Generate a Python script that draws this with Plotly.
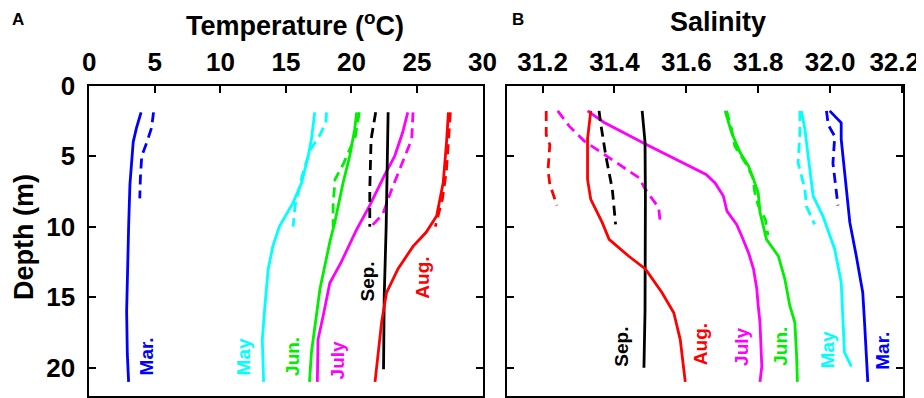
import plotly.graph_objects as go

# ---------------- Panel A: Temperature (°C) vs depth (m) ----------------
mar_t_depth = [1.9, 3, 4, 5, 7, 10, 13, 16, 19, 21]
mar_t = [3.95, 3.6, 3.35, 3.25, 3.1, 3.0, 2.9, 2.85, 2.9, 3.0]
mar_td_depth = [1.9, 3, 4, 5, 6.5, 8]
mar_td = [4.9, 4.75, 4.4, 4.0, 3.9, 3.85]

may_t_depth = [1.9, 3.8, 5, 6.9, 8.3, 10, 11.4, 13, 15.6, 18, 21]
may_t = [17.2, 16.95, 16.7, 16.2, 15.55, 14.5, 14.0, 13.65, 13.4, 13.2, 13.3]
may_td_depth = [1.9, 2.6, 3.5, 4.5, 6, 7.3, 8.5, 10]
may_td = [18.1, 18.05, 17.6, 16.9, 16.35, 16.0, 15.7, 15.55]

jun_t_depth = [1.9, 3.1, 5, 6.9, 9.7, 11.1, 14.4, 17, 18.9, 21]
jun_t = [20.4, 20.25, 19.87, 19.36, 18.73, 18.35, 17.6, 17.2, 16.95, 16.8]
jun_td_depth = [1.9, 2.6, 3.6, 5.6, 6.65, 8.5, 10]
jun_td = [20.6, 20.5, 20.3, 19.36, 18.75, 18.6, 18.6]

jul_t_depth = [1.9, 3.35, 5, 6.4, 8.5, 10.2, 12.55, 14, 16.3, 18, 21]
jul_t = [24.3, 23.9, 23.3, 22.5, 21.4, 20.4, 19.2, 18.35, 17.85, 17.45, 17.4]
jul_td_depth = [1.9, 3.8, 5.9, 7.4, 9.1, 10]
jul_td = [24.7, 24.6, 23.7, 23.05, 22.4, 21.5]

aug_t_depth = [1.9, 4.1, 6.9, 9.25, 10.4, 11.4, 13, 14.7, 16.8, 21]
aug_t = [27.4, 27.25, 27.0, 26.5, 25.7, 24.7, 23.55, 22.67, 22.3, 21.8]
aug_td_depth = [1.9, 4, 6, 8, 10]
aug_td = [27.55, 27.4, 27.25, 26.95, 26.4]

sep_t_depth = [1.9, 5, 10, 15, 20.1]
sep_t = [22.8, 22.75, 22.65, 22.5, 22.45]
sep_td_depth = [1.9, 3.8, 7.4, 10]
sep_td = [21.85, 21.5, 21.4, 21.4]

# ---------------- Panel B: Salinity vs depth (m) ----------------
aug_s_depth = [1.8, 3.8, 6.65, 8.07, 9.72, 10.9, 12.1, 13.0, 14.67, 16.1, 18.0, 19.1, 21.0]
aug_s = [31.334, 31.325, 31.325, 31.334, 31.366, 31.385, 31.44, 31.486, 31.532, 31.565, 31.583, 31.588, 31.597]
aug_sd_depth = [1.8, 3.5, 4.2, 6, 7, 8.5]
aug_sd = [31.21, 31.21, 31.22, 31.215, 31.22, 31.24]

sep_s_depth = [1.8, 4, 8, 12, 16, 20]
sep_s = [31.477, 31.485, 31.486, 31.486, 31.485, 31.482]
sep_sd_depth = [1.8, 2.75, 5.0, 7.36, 9.84]
sep_sd = [31.357, 31.362, 31.376, 31.394, 31.403]

jul_s_depth = [1.8, 2.6, 4.2, 6.3, 6.9, 7.83, 8.9, 9.84, 10.66, 11.84, 13.0, 14.4, 15.6, 16.8, 19.9, 21.0]
jul_s = [31.325, 31.37, 31.49, 31.655, 31.68, 31.703, 31.713, 31.74, 31.754, 31.773, 31.787, 31.796, 31.8, 31.805, 31.81, 31.805]
jul_sd_depth = [1.8, 2.88, 3.94, 5.24, 6.53, 7.36, 8.66, 9.84]
jul_sd = [31.242, 31.274, 31.316, 31.394, 31.468, 31.486, 31.523, 31.528]

jun_s_depth = [1.8, 3.35, 4.77, 5.71, 6.65, 7.6, 9.0, 10.9, 12.08, 13.7, 15.6, 16.8, 19.2, 21.0]
jun_s = [31.708, 31.726, 31.75, 31.773, 31.787, 31.8, 31.805, 31.823, 31.856, 31.874, 31.888, 31.902, 31.907, 31.909]
jun_sd_depth = [1.8, 3, 4.3, 5.5, 6.5, 7.5, 8.5, 9.5, 10.6]
jun_sd = [31.712, 31.725, 31.735, 31.765, 31.785, 31.79, 31.8, 31.82, 31.827]

may_s_depth = [1.8, 3.1, 5.0, 7.83, 9.25, 11.6, 13.96, 16.8, 18.9, 19.9]
may_s = [31.92, 31.93, 31.939, 31.953, 31.98, 32.013, 32.031, 32.036, 32.04, 32.059]
may_sd_depth = [1.8, 3.35, 5.47, 7.36, 8.54, 9.84]
may_sd = [31.916, 31.916, 31.911, 31.93, 31.934, 31.957]

mar_s_depth = [1.8, 2.64, 3.8, 6.2, 9.7, 12.08, 14.67, 16.8, 19.2, 21.0]
mar_s = [31.999, 32.031, 32.031, 32.04, 32.055, 32.073, 32.091, 32.096, 32.1, 32.105]
mar_sd_depth = [1.8, 2.8, 3.6, 5.5, 7, 8.5]
mar_sd = [31.99, 31.995, 32.013, 32.008, 32.015, 32.022]

# ---------------- labels ----------------
month_names = ["Mar.", "May", "Jun.", "July", "Sep.", "Aug."]
month_colors = ["#0000ff", "#00ffff", "#00ee00", "#ff00ff", "#000000", "#ff0000"]
temp_label_x = [4.4, 11.8, 15.5, 18.95, 21.25, 25.4]
temp_label_y = [19.2, 19.2, 19.2, 19.5, 13.9, 13.6]
sal_label_x = [32.147, 31.994, 31.861, 31.753, 31.421, 31.639]
sal_label_y = [18.8, 18.7, 18.5, 18.5, 18.5, 18.3]

temp_ticks = [0, 5, 10, 15, 20, 25, 30]
sal_ticks = [31.2, 31.4, 31.6, 31.8, 32.0, 32.2]
# trailing no-break spaces nudge the last label left so it stays inside the page
sal_ticktext = ["31.2", "31.4", "31.6", "31.8", "32.0", "32.2\u00a0\u00a0"]
depth_ticks = [0, 5, 10, 15, 20]

FONT = "Liberation Sans, Arial, sans-serif"
LW = 2.8
DASH = "10px,6px"

colors = dict(zip(month_names, month_colors))

fig = go.Figure()

def add(x, y, color, dash, xa, ya):
    fig.add_trace(go.Scatter(
        x=x, y=y, mode="lines", xaxis=xa, yaxis=ya, showlegend=False,
        line=dict(color=color, width=LW, dash=dash), hoverinfo="skip"))

temp_series = [
    ("Mar.", mar_t, mar_t_depth, mar_td, mar_td_depth),
    ("May", may_t, may_t_depth, may_td, may_td_depth),
    ("Jun.", jun_t, jun_t_depth, jun_td, jun_td_depth),
    ("July", jul_t, jul_t_depth, jul_td, jul_td_depth),
    ("Sep.", sep_t, sep_t_depth, sep_td, sep_td_depth),
    ("Aug.", aug_t, aug_t_depth, aug_td, aug_td_depth),
]
for name, xs, ys, xd, yd in temp_series:
    add(xd, yd, colors[name], DASH, "x", "y")
    add(xs, ys, colors[name], "solid", "x", "y")

sal_series = [
    ("Mar.", mar_s, mar_s_depth, mar_sd, mar_sd_depth),
    ("May", may_s, may_s_depth, may_sd, may_sd_depth),
    ("Jun.", jun_s, jun_s_depth, jun_sd, jun_sd_depth),
    ("July", jul_s, jul_s_depth, jul_sd, jul_sd_depth),
    ("Sep.", sep_s, sep_s_depth, sep_sd, sep_sd_depth),
    ("Aug.", aug_s, aug_s_depth, aug_sd, aug_sd_depth),
]
for name, xs, ys, xd, yd in sal_series:
    add(xd, yd, colors[name], DASH, "x2", "y2")
    add(xs, ys, colors[name], "solid", "x2", "y2")

# page body has an 8px margin: figure is drawn from (8, 8) of the window
OFF = 8
W, H = 924 - OFF, 398 - OFF

def px(X):
    return (X - OFF) / W

def py(Y):
    return 1 - (Y - OFF) / H

annotations = []
for name, c, lx, ly in zip(month_names, month_colors, temp_label_x, temp_label_y):
    annotations.append(dict(x=lx, y=ly, xref="x", yref="y", text=name, showarrow=False,
                            xanchor="center", yanchor="middle",
                            textangle=-90, font=dict(family=FONT, size=19, color=c, weight="bold")))
for name, c, lx, ly in zip(month_names, month_colors, sal_label_x, sal_label_y):
    annotations.append(dict(x=lx, y=ly, xref="x2", yref="y2", text=name, showarrow=False,
                            xanchor="center", yanchor="middle",
                            textangle=-90, font=dict(family=FONT, size=19, color=c, weight="bold")))

def label(X, Y, text, size, angle=0):
    return dict(x=px(X), y=py(Y), xref="paper", yref="paper", text=text, showarrow=False,
                xanchor="center", yanchor="middle", textangle=angle,
                font=dict(family=FONT, size=size, color="black", weight="bold"))

annotations += [
    label(295, 24, "Temperature (<sup>o</sup>C)", 27),
    label(718, 22, "Salinity", 27),
    label(24, 237, "Depth (m)", 27, -90),
    label(18, 19, "A", 17),
    label(518, 19, "B", 17),
]

tickfont = dict(family=FONT, size=26, color="black", weight="bold")
common_x = dict(side="top", ticks="inside", ticklen=7, tickwidth=2, tickcolor="black",
                showline=True, linecolor="black", linewidth=2, mirror=True, automargin=False,
                showgrid=False, zeroline=False, tickfont=tickfont, ticklabelstandoff=2,
                ticklabeloverflow="allow")
common_y = dict(ticks="inside", ticklen=7, tickwidth=2, tickcolor="black",
                showline=True, linecolor="black", linewidth=2, mirror="ticks", automargin=False,
                showgrid=False, zeroline=False, tickfont=tickfont, ticklabelstandoff=7,
                range=[22, 0], tickvals=depth_ticks)

ydom = [py(396), py(85.5)]
fig.update_layout(
    width=W, height=H,
    margin=dict(l=0, r=0, t=0, b=0, autoexpand=False),
    paper_bgcolor="white", plot_bgcolor="white",
    xaxis=dict(common_x, domain=[px(89.3), px(482.5)], range=[0, 30], tickvals=temp_ticks, anchor="y"),
    yaxis=dict(common_y, domain=ydom, anchor="x"),
    xaxis2=dict(common_x, domain=[px(506.7), px(903)], range=[31.1, 32.203], tickvals=sal_ticks,
                ticktext=sal_ticktext, anchor="y2"),
    yaxis2=dict(common_y, domain=ydom, anchor="x2", showticklabels=False),
    annotations=annotations,
)

fig.write_html("out.html")
